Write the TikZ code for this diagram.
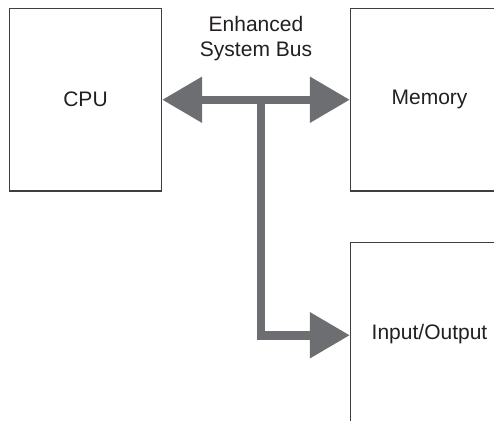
\documentclass[tikz,border=0pt]{standalone}
\usepackage{fontspec}
\setmainfont{Liberation Sans}
\usepackage{tikz}
\usetikzlibrary{arrows.meta, positioning}
\definecolor{busgray}{RGB}{109,110,113}
\definecolor{boxline}{RGB}{62,62,62}
\definecolor{ink}{RGB}{35,31,32}

\begin{document}
\begin{tikzpicture}[
node distance = 234pt and 344pt, on grid,
font = \fontsize{21pt}{25pt}\selectfont, text = ink,
unit/.style = {draw=boxline, line width=1.3pt, inner sep=0pt,
               minimum width=152pt, minimum height=182.5pt},
wide/.style = {minimum width=158pt},
bus/.style  = {draw=busgray, line width=8.5pt,
               arrows = {-Triangle[length=40pt, width=44pt]}},
                    ]
\useasboundingbox (0,0) rectangle (494pt,-420pt);
\clip (0,0) rectangle (494pt,-420pt);
%
\node[unit] (cpu) at (85.5pt,-99.75pt) {CPU};
\node[unit, wide] (mem) [right=of cpu] {Memory};
\node[unit, wide] (io)  [below=of mem] {Input/Output};
\node[align=center] (lbl) at (256pt,-39pt) {Enhanced\\System Bus};
%
\coordinate (jn) at (261pt,-99.75pt);
\draw[bus, arrows = {Triangle[length=40pt, width=44pt]-Triangle[length=40pt, width=44pt]}]
            (cpu.east) -- (mem.west);
\draw[bus]  (jn) |- ([yshift=-1.5pt] io.west);
%
\end{tikzpicture}
\end{document}
